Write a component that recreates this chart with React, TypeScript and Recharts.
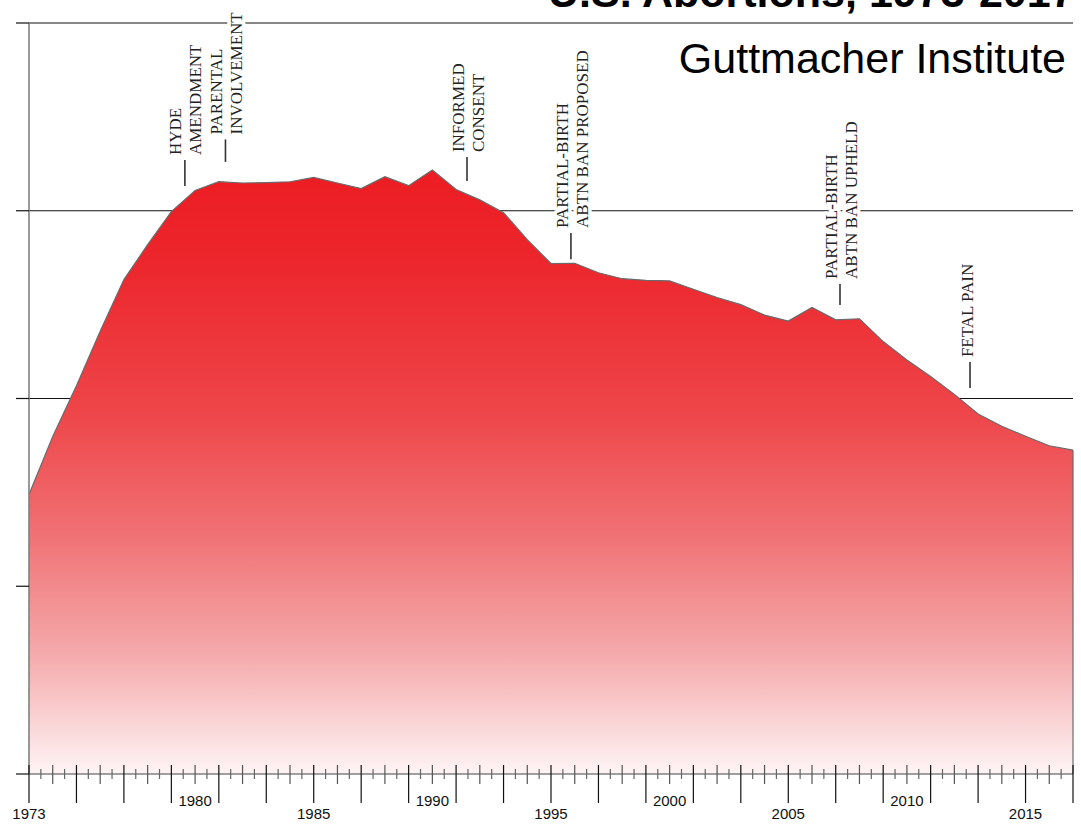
import { AreaChart, Area, XAxis, YAxis, CartesianGrid, ReferenceLine } from "recharts";

// U.S. abortions per year (Guttmacher Institute)
const years = [
  1973, 1974, 1975, 1976, 1977, 1978, 1979, 1980, 1981, 1982, 1983, 1984,
  1985, 1986, 1987, 1988, 1989, 1990, 1991, 1992, 1993, 1994, 1995, 1996,
  1997, 1998, 1999, 2000, 2001, 2002, 2003, 2004, 2005, 2006, 2007, 2008,
  2009, 2010, 2011, 2012, 2013, 2014, 2015, 2016, 2017,
];
const abortions = [
  744600, 898600, 1034200, 1179300, 1316700, 1409600, 1497700, 1553900,
  1577300, 1573900, 1575000, 1577200, 1588600, 1574000, 1559100, 1590800,
  1566900, 1608600, 1556500, 1528900, 1495000, 1423000, 1359400, 1360200,
  1335000, 1319000, 1314800, 1313000, 1291000, 1269000, 1250000, 1222100,
  1206200, 1242200, 1209600, 1212400, 1151600, 1102700, 1058500, 1011000,
  958700, 926200, 899500, 874100, 862300,
];

// axis ticks and labels
const yTicks = [0, 500000, 1000000, 1500000, 2000000];
const gridValues = [1000000, 1500000, 2000000];
const lowerLabels = [1973, 1985, 1995, 2005, 2015];
const upperLabels = [1980, 1990, 2000, 2010];

// policy annotations
const noteYears = [1979.57, 1981.28, 1991.46, 1995.84, 2007.18, 2012.66];
const noteTop = [1635000, 1690000, 1643000, 1441000, 1305000, 1097000];
const noteBottom = [1566000, 1630000, 1579000, 1371000, 1249000, 1028000];
const noteLines = [
  ["HYDE", "AMENDMENT"],
  ["PARENTAL", "INVOLVEMENT"],
  ["INFORMED", "CONSENT"],
  ["PARTIAL-BIRTH", "ABTN BAN PROPOSED"],
  ["PARTIAL-BIRTH", "ABTN BAN UPHELD"],
  ["FETAL PAIN"],
];

const data = years.map((year, i) => ({ year, value: abortions[i] }));

const firstYear = years[0];
const lastYear = years[years.length - 1];
const halfYearTicks: number[] = [];
for (let t = firstYear; t <= lastYear; t += 0.5) halfYearTicks.push(t);

const YearTick = (props: any) => {
  const { x, y, payload } = props;
  const v = payload.value;
  const whole = Number.isInteger(v);
  const long = whole && (v - firstYear) % 2 === 0;
  let top = -9;
  let bottom = 10;
  let stroke = "#555";
  if (!whole) {
    top = -5;
    bottom = 5;
    stroke = "#666";
  } else if (long) {
    bottom = 29;
    stroke = "#111";
  }
  const labelStyle = {
    fontFamily: "'Liberation Sans', Arial, sans-serif",
    fontSize: 15,
    fill: "#111",
  };
  return (
    <g>
      <line x1={x} x2={x} y1={y + top} y2={y + bottom} stroke={stroke} strokeWidth={1.2} />
      {lowerLabels.includes(v) && (
        <text x={x} y={y + 45} textAnchor="middle" style={labelStyle}>
          {v}
        </text>
      )}
      {upperLabels.includes(v) && (
        <text x={x} y={y + 32} textAnchor="middle" style={labelStyle}>
          {v}
        </text>
      )}
    </g>
  );
};

const renderNote = (lines: string[]) => (p: any) => {
  const vb = p.viewBox ?? p;
  const mx = vb.x;
  const top = vb.y;
  const offsets = lines.length === 1 ? [-3] : [-9, 11];
  return (
    <g>
      {lines.map((line, i) => {
        const bx = mx + offsets[i] + 5.6;
        const by = top - 5;
        return (
          <text
            key={line + i}
            x={bx}
            y={by}
            transform={`rotate(-90 ${bx} ${by})`}
            style={{
              fontFamily: "'Liberation Serif', 'Times New Roman', serif",
              fontSize: 17,
              fill: "#222",
              stroke: "#fff",
              strokeWidth: 7,
              strokeLinejoin: "round",
              paintOrder: "stroke",
            }}
          >
            {line}
          </text>
        );
      })}
    </g>
  );
};

export default function App() {
  return (
    <div
      style={{
        position: "absolute",
        left: 0,
        top: 0,
        width: 1081,
        height: 826,
        background: "#fff",
        overflow: "hidden",
      }}
    >
      <AreaChart
        width={1081}
        height={826}
        data={data}
        margin={{ top: 23, right: 8, bottom: 0, left: 0 }}
      >
        <defs>
          <linearGradient id="redFade" x1="0" y1="0" x2="0" y2="1">
            <stop offset="0%" stopColor="#ec1d23" />
            <stop offset="15%" stopColor="#ec262c" />
            <stop offset="40%" stopColor="#ee4549" />
            <stop offset="60%" stopColor="#f07073" />
            <stop offset="80%" stopColor="#f5a9ab" />
            <stop offset="100%" stopColor="#fef4f5" />
          </linearGradient>
        </defs>
        <CartesianGrid
          vertical={false}
          horizontalValues={gridValues}
          stroke="#111"
          strokeWidth={1.2}
        />
        <XAxis
          dataKey="year"
          type="number"
          domain={[firstYear, lastYear]}
          ticks={halfYearTicks}
          interval={0}
          height={52}
          tickSize={0}
          tickMargin={0}
          tickLine={false}
          axisLine={{ stroke: "#444", strokeWidth: 1.2 }}
          tick={(p: any) => <YearTick {...p} />}
        />
        <YAxis
          width={29}
          domain={[0, 2000000]}
          ticks={yTicks}
          interval={0}
          tickSize={13}
          tickFormatter={() => ""}
          tickLine={{ stroke: "#111", strokeWidth: 1.2 }}
          axisLine={{ stroke: "#808080", strokeWidth: 1.6 }}
        />
        <Area
          type="linear"
          dataKey="value"
          stroke="#6a6a6a"
          strokeWidth={1.2}
          fill="url(#redFade)"
          fillOpacity={1}
          isAnimationActive={false}
        />
        <ReferenceLine
          segment={[
            { x: lastYear, y: 0 },
            { x: lastYear, y: abortions[abortions.length - 1] },
          ]}
          stroke="#6a6a6a"
          strokeWidth={1.2}
        />
        {noteYears.map((yr, i) => (
          <ReferenceLine
            key={yr}
            segment={[
              { x: yr, y: noteTop[i] },
              { x: yr, y: noteBottom[i] },
            ]}
            stroke="#333"
            strokeWidth={1.6}
            label={renderNote(noteLines[i])}
          />
        ))}
      </AreaChart>
      <svg
        width={1081}
        height={826}
        style={{ position: "absolute", left: 0, top: 0, pointerEvents: "none" }}
      >
        <text
          x={548}
          y={7}
          style={{
            fontFamily: "'Liberation Sans', Arial, sans-serif",
            fontSize: 43,
            fontWeight: 700,
            fill: "#000",
          }}
        >
          U.S. Abortions, 1973-2017
        </text>
        <text
          x={1066}
          y={73}
          textAnchor="end"
          style={{
            fontFamily: "'Liberation Sans', Arial, sans-serif",
            fontSize: 43,
            fill: "#000",
          }}
        >
          Guttmacher Institute
        </text>
      </svg>
    </div>
  );
}
